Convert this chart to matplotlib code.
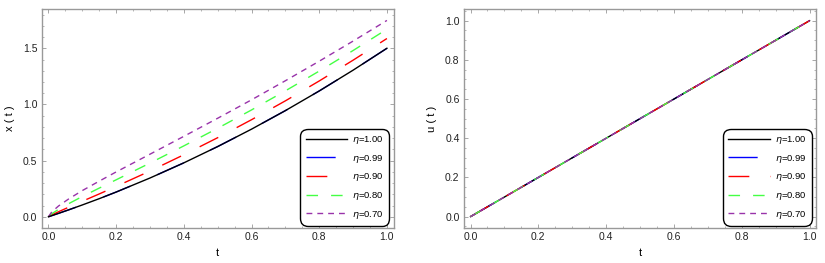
import matplotlib
matplotlib.use("Agg")
import matplotlib.pyplot as plt
from matplotlib.ticker import MultipleLocator

plt.rcParams['font.family'] = ['Liberation Sans', 'DejaVu Sans']
plt.rcParams['mathtext.fontset'] = 'dejavusans'
plt.rcParams['lines.scale_dashes'] = False

# ---- data ----
t = [0, 0.01, 0.03, 0.06, 0.1, 0.15, 0.2, 0.3, 0.4, 0.5, 0.6, 0.7, 0.8, 0.9, 1.0]
eta_labels = ["1.00", "0.99", "0.90", "0.80", "0.70"]

# x(t): the eta=0.99 curve is hidden under the black eta=1.00 curve
x_100 = [0, 0.0101, 0.0305, 0.0618, 0.105, 0.161, 0.220, 0.345, 0.480, 0.625, 0.780, 0.945, 1.120, 1.305, 1.500]
x_099 = [0, 0.0101, 0.0305, 0.0618, 0.105, 0.161, 0.220, 0.345, 0.480, 0.625, 0.780, 0.945, 1.120, 1.305, 1.500]
x_090 = [0, 0.0166, 0.0450, 0.0853, 0.138, 0.203, 0.270, 0.407, 0.552, 0.704, 0.864, 1.032, 1.209, 1.394, 1.587]
x_080 = [0, 0.0271, 0.0660, 0.117, 0.180, 0.255, 0.329, 0.478, 0.631, 0.788, 0.951, 1.121, 1.297, 1.480, 1.670]
x_070 = [0, 0.0441, 0.0962, 0.159, 0.233, 0.317, 0.399, 0.557, 0.716, 0.877, 1.041, 1.211, 1.385, 1.564, 1.748]

u_100 = [0, 0.01, 0.03, 0.06, 0.1, 0.15, 0.2, 0.3, 0.4, 0.5, 0.6, 0.7, 0.8, 0.9, 1.0]
u_099 = [0, 0.01, 0.03, 0.06, 0.1, 0.15, 0.2, 0.3, 0.4, 0.5, 0.6, 0.7, 0.8, 0.9, 1.0]
u_090 = [0, 0.01, 0.03, 0.06, 0.1, 0.15, 0.2, 0.3, 0.4, 0.5, 0.6, 0.7, 0.8, 0.9, 1.0]
u_080 = [0, 0.01, 0.03, 0.06, 0.1, 0.15, 0.2, 0.3, 0.4, 0.5, 0.6, 0.7, 0.8, 0.9, 1.0]
u_070 = [0, 0.01, 0.03, 0.06, 0.1, 0.15, 0.2, 0.3, 0.4, 0.5, 0.6, 0.7, 0.8, 0.9, 1.0]

x_series = [x_100, x_099, x_090, x_080, x_070]
u_series = [u_100, u_099, u_090, u_080, u_070]

colors = ["black", "#0000ff", "#ff0000", "#44ff44", "#9933aa"]
styles = ["-", (0, (21, 21)), (0, (15, 15)), (0, (8.3, 9.4)), (0, (4.2, 3.6))]
z_left = [6, 2, 3, 4, 5]
z_right = [2, 1, 3, 4, 5]

fig = plt.figure(figsize=(8.25, 2.63), dpi=100)
ax1 = fig.add_axes([0.0505, 0.1331, 0.4267, 0.8315])
ax2 = fig.add_axes([0.5621, 0.1331, 0.4274, 0.8315])

frame_col = "#999999"


def style_axes(ax, ymaj, ymin):
    for s in ax.spines.values():
        s.set_color(frame_col)
        s.set_linewidth(1.0)
    ax.xaxis.set_major_locator(MultipleLocator(0.2))
    ax.xaxis.set_minor_locator(MultipleLocator(0.05))
    ax.yaxis.set_major_locator(MultipleLocator(ymaj))
    ax.yaxis.set_minor_locator(MultipleLocator(ymin))
    ax.tick_params(which='both', direction='in', top=True, right=True,
                   color=frame_col, labelsize=7.5, labelcolor="#222222")
    ax.tick_params(which='major', length=3, width=0.6, pad=3)
    ax.tick_params(which='minor', length=1.6, width=0.5)
    ax.set_xlim(-0.02, 1.02)


def add_legend(ax):
    leg = ax.legend(loc='lower right', bbox_to_anchor=(0.987, 0.0105),
                    bbox_transform=ax.transAxes, borderaxespad=0,
                    fontsize=6.8, handlelength=4.4, handletextpad=0.55,
                    labelspacing=0.7, borderpad=0.55, fancybox=True,
                    framealpha=1, edgecolor="black")
    leg.get_frame().set_linewidth(1.0)
    leg.get_frame().set_boxstyle("round", pad=0, rounding_size=0.8)
    return leg


for ys, c, ls, z, lab in zip(x_series, colors, styles, z_left, eta_labels):
    ax1.plot(t, ys, color=c, linestyle=ls, lw=1.0, zorder=z, label=r"$\eta$=" + lab)
style_axes(ax1, 0.5, 0.1)
ax1.set_ylim(-0.10, 1.847)
ax1.set_xlabel("t", fontsize=8, labelpad=4)
ax1.set_ylabel("x ( t )", fontsize=8, labelpad=6)
add_legend(ax1)

for ys, c, ls, z, lab in zip(u_series, colors, styles, z_right, eta_labels):
    ax2.plot(t, ys, color=c, linestyle=ls, lw=1.0, zorder=z, label=r"$\eta$=" + lab)
style_axes(ax2, 0.2, 0.05)
ax2.set_ylim(-0.058, 1.058)
ax2.set_xlabel("t", fontsize=8, labelpad=4)
ax2.set_ylabel("u ( t )", fontsize=8, labelpad=6)
add_legend(ax2)

fig.savefig("out.png", dpi=100)
